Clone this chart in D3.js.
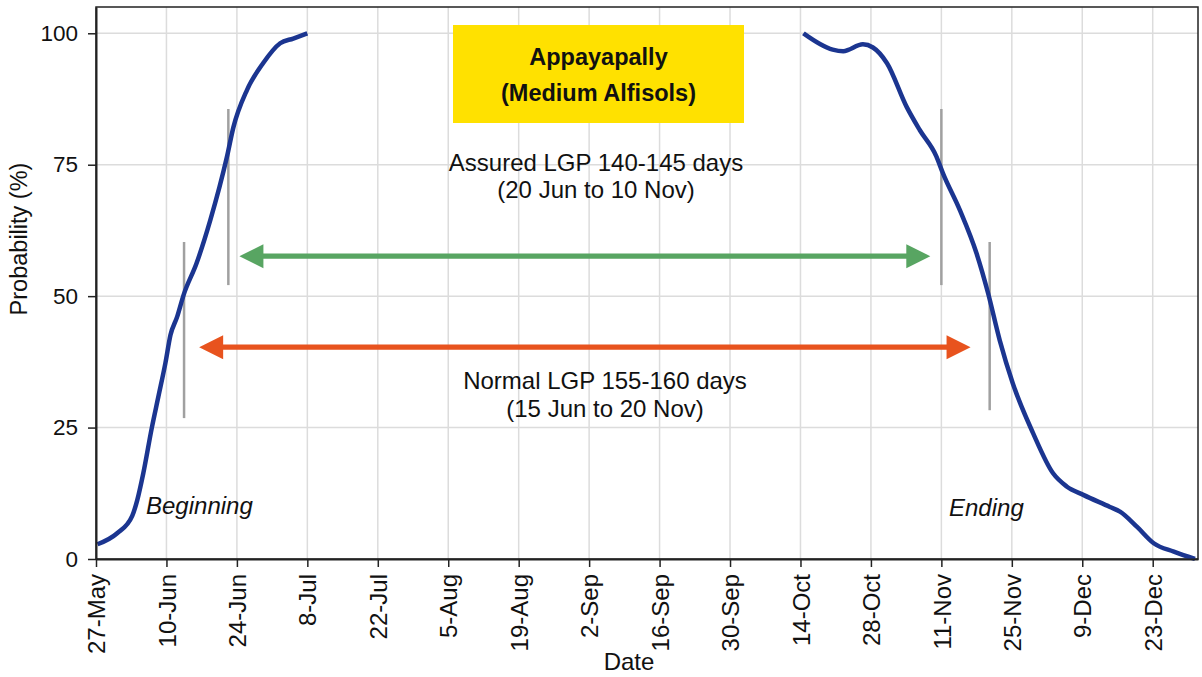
<!DOCTYPE html>
<html>
<head>
<meta charset="utf-8">
<script src="https://cdn.jsdelivr.net/npm/d3@7"></script>
<style>
  html, body { margin: 0; padding: 0; background: #fff; }
  svg { display: block; font-family: "Liberation Sans", Arial, sans-serif; }
</style>
</head>
<body>
<svg id="chart" width="1202" height="677"></svg>
<script>
// ---- data ----
const tickLabels = ["27-May","10-Jun","24-Jun","8-Jul","22-Jul","5-Aug","19-Aug","2-Sep","16-Sep","30-Sep","14-Oct","28-Oct","11-Nov","25-Nov","9-Dec","23-Dec"];
const tickDays = [0,14,28,42,56,70,84,98,112,126,140,154,168,182,196,210];
const yTicks = [0,25,50,75,100];

// onset (beginning) probability curve: days after 27-May, probability %
const onsetDays = [0.3, 4.2, 7.2, 8.2, 9.4, 11.1, 12.4, 13.8, 14.8, 16.1, 17.4, 20, 22.7, 26, 27.3, 30, 33.2, 36.6, 39.2, 42];
const onsetProb = [2.8, 4.9, 8.2, 11.2, 16.3, 25, 30.9, 37.3, 42.6, 46, 50.2, 56.3, 64.4, 76.4, 82.1, 89.2, 94.3, 98.1, 99, 100];

// ending probability curve
const endDays = [140.6, 146.4, 148.5, 152.4, 154.4, 157.2, 161.1, 163.7, 167, 168.3, 171.7, 175, 177.3, 179.6, 182.2, 186.2, 190.2, 192.9, 196.2, 201.5, 203.5, 206.9, 210.2, 214.2, 218.4];
const endProb = [100, 96.9, 96.6, 97.9, 97.3, 94.3, 86, 81.6, 76.6, 73.4, 66.3, 58.1, 50.5, 41.6, 33.4, 24, 16.3, 13.8, 12.2, 9.9, 9.0, 6.1, 3.0, 1.4, 0];

// grey marker lines
const markerDays = [17.5, 26.3, 168, 177.6];
const markerLow = [26.8, 52.1, 52.1, 28.3];
const markerHigh = [60.3, 85.6, 85.6, 60.3];

// LGP arrows: assured, normal
const arrowNames = ["assured", "normal"];
const arrowStart = [28.5, 20.5];
const arrowEnd = [165.8, 173.8];
const arrowProb = [57.6, 40.3];

// ---- chart ----
const svg = d3.select("#chart");
const padL = 96, padR = 1198, padT = 7, padB = 559;
const x = d3.scaleLinear().domain([0, 219]).range([padL, padR]);
const y = d3.scaleLinear().domain([0, 105]).range([padB, padT]);

// grid
const grid = svg.append("g");
grid.selectAll("line.vg").data(tickDays.slice(1)).join("line")
  .attr("x1", d => x(d)).attr("x2", d => x(d))
  .attr("y1", padT).attr("y2", padB)
  .attr("stroke", "#dcdcdc").attr("stroke-width", 1.5);
grid.selectAll("line.hg").data(yTicks.slice(1)).join("line")
  .attr("x1", padL).attr("x2", padR)
  .attr("y1", d => y(d)).attr("y2", d => y(d))
  .attr("stroke", "#dcdcdc").attr("stroke-width", 1.5);

// frame (top/right)
svg.append("rect").attr("x", padL).attr("y", padT)
  .attr("width", padR - padL).attr("height", padB - padT)
  .attr("fill", "none").attr("stroke", "#222").attr("stroke-width", 1.5);

// yellow title box
svg.append("rect").attr("x", 453).attr("y", 25).attr("width", 291).attr("height", 98)
  .attr("fill", "#ffe100");
svg.append("text").attr("x", 598.5).attr("y", 65).attr("text-anchor", "middle")
  .attr("font-size", 23.5).attr("font-weight", "bold").attr("fill", "#111").text("Appayapally");
svg.append("text").attr("x", 598.5).attr("y", 101).attr("text-anchor", "middle")
  .attr("font-size", 23.5).attr("font-weight", "bold").attr("fill", "#111").text("(Medium Alfisols)");

// annotation texts
const ann = [
  {t: "Assured LGP 140-145 days", x: 596, y: 171},
  {t: "(20 Jun to 10 Nov)", x: 596, y: 198},
  {t: "Normal LGP 155-160 days", x: 605, y: 389},
  {t: "(15 Jun to 20 Nov)", x: 605, y: 417}
];
svg.selectAll("text.ann").data(ann).join("text").attr("class", "ann")
  .attr("x", d => d.x).attr("y", d => d.y).attr("text-anchor", "middle")
  .attr("font-size", 24).attr("fill", "#111").text(d => d.t);

svg.append("text").attr("x", 146).attr("y", 514).attr("font-size", 24)
  .attr("font-style", "italic").attr("fill", "#111").text("Beginning");
svg.append("text").attr("x", 949).attr("y", 516).attr("font-size", 24)
  .attr("font-style", "italic").attr("fill", "#111").text("Ending");

// marker lines
svg.selectAll("line.mk").data(markerDays).join("line")
  .attr("x1", d => x(d)).attr("x2", d => x(d))
  .attr("y1", (d, i) => y(markerLow[i])).attr("y2", (d, i) => y(markerHigh[i]))
  .attr("stroke", "#a0a0a0").attr("stroke-width", 2.5);

// arrows
const arrowColors = ["#58a562", "#e8531e"];
const headL = 24, headH = 12, shaft = 2.6;
arrowNames.forEach((n, i) => {
  const x0 = x(arrowStart[i]), x1 = x(arrowEnd[i]), yy = y(arrowProb[i]);
  const p = d3.path();
  p.moveTo(x0, yy);
  p.lineTo(x0 + headL, yy - headH);
  p.lineTo(x0 + headL, yy - shaft);
  p.lineTo(x1 - headL, yy - shaft);
  p.lineTo(x1 - headL, yy - headH);
  p.lineTo(x1, yy);
  p.lineTo(x1 - headL, yy + headH);
  p.lineTo(x1 - headL, yy + shaft);
  p.lineTo(x0 + headL, yy + shaft);
  p.lineTo(x0 + headL, yy + headH);
  p.closePath();
  svg.append("path").attr("d", p.toString()).attr("fill", arrowColors[i]);
});

// curves
const line = d3.line().x(d => x(d[0])).y(d => y(d[1])).curve(d3.curveMonotoneX);
const series = [d3.zip(onsetDays, onsetProb), d3.zip(endDays, endProb)];
svg.selectAll("path.curve").data(series).join("path").attr("class", "curve")
  .attr("d", line).attr("fill", "none").attr("stroke", "#1b3590")
  .attr("stroke-width", 4.5).attr("stroke-linejoin", "round");

// axes
const xAxis = d3.axisBottom(x).tickValues(tickDays)
  .tickFormat((d, i) => tickLabels[i]).tickSize(8).tickSizeOuter(0);
const gx = svg.append("g").attr("transform", `translate(0,${padB})`).call(xAxis);
gx.select(".domain").attr("stroke", "#222").attr("stroke-width", 2);
gx.selectAll(".tick line").attr("stroke", "#222").attr("stroke-width", 1.5);
gx.selectAll(".tick text")
  .attr("font-size", 24).attr("font-family", "Liberation Sans, Arial, sans-serif").attr("fill", "#111")
  .attr("text-anchor", "end").attr("transform", "rotate(-90)")
  .attr("x", -15).attr("y", 0).attr("dy", "0.36em");

const yAxis = d3.axisLeft(y).tickValues(yTicks).tickSize(8).tickPadding(10).tickSizeOuter(0);
const gy = svg.append("g").attr("transform", `translate(${padL},0)`).call(yAxis);
gy.select(".domain").attr("stroke", "#222").attr("stroke-width", 2);
gy.selectAll(".tick line").attr("stroke", "#222").attr("stroke-width", 1.5);
gy.selectAll(".tick text").attr("font-size", 22.5)
  .attr("font-family", "Liberation Sans, Arial, sans-serif").attr("fill", "#111");

// axis titles
svg.append("text").attr("x", 629).attr("y", 670).attr("text-anchor", "middle")
  .attr("font-size", 24).attr("fill", "#111").text("Date");
svg.append("text").attr("transform", "translate(27,239) rotate(-90)").attr("text-anchor", "middle")
  .attr("font-size", 23.5).attr("fill", "#111").text("Probability (%)");
</script>
</body>
</html>
